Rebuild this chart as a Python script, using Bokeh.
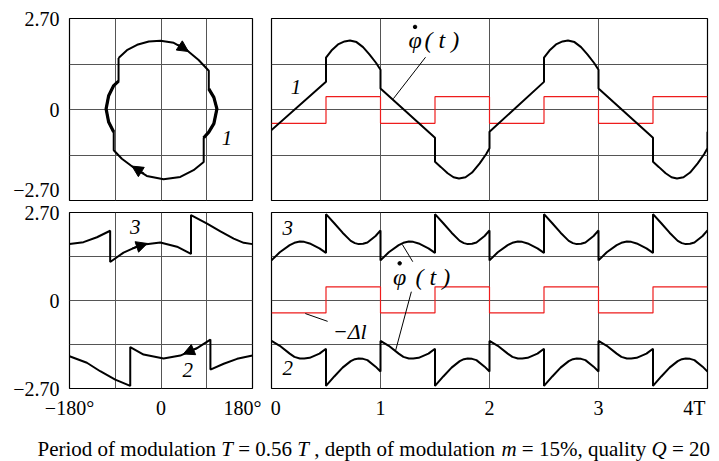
from bokeh.plotting import figure
from bokeh.models import Range1d, FixedTicker, LinearAxis, Grid, Arrow, NormalHead
from bokeh.layouts import column, row
from bokeh.embed import file_html
from bokeh.resources import INLINE
from bokeh.core.properties import value

FONT = "Liberation Serif"
RED = "#ee1c1c"
GRID = "#555555"
NB = "\u00a0"

# ---------------- data ----------------
# top-left: phase portrait of curve 1 (phase in degrees, normalised phase velocity)
tl_loop_x = [-83.5, -67, -47, -24, -1, 25, 51, 74, 94, 94, 104, 110, 104, 94, 84, 84,
             64, 38, 5, -28, -54, -77, -93, -93, -103, -108, -103, -93, -83.5, -83.5]
tl_loop_y = [1.53, 1.76, 1.92, 2.02, 2.04, 1.98, 1.76, 1.47, 1.15, 0.61, 0.36, 0.02, -0.42,
             -0.67, -0.84, -1.56, -1.80, -2.00, -2.07, -1.97, -1.72, -1.46, -1.21, -0.67,
             -0.37, 0.02, 0.41, 0.71, 0.84, 1.53]
tl_right_arc_x = [94, 104, 110, 104, 94, 84]
tl_right_arc_y = [0.61, 0.36, 0.02, -0.42, -0.67, -0.84]
tl_left_arc_x = [-93, -103, -108, -103, -93, -83.5]
tl_left_arc_y = [-0.67, -0.37, 0.02, 0.41, 0.71, 0.84]

# top-right: phase velocity of curve 1 versus time (units of T) and the modulation
tr_t = [0, 0.5, 0.5, 0.55, 0.61, 0.67, 0.72, 0.78, 0.84, 0.90, 0.96, 1.0, 1.0, 1.5, 1.5,
        1.555, 1.616, 1.67, 1.72, 1.78, 1.84, 1.91, 1.97, 2.0, 2.0,
        2.5, 2.5, 2.55, 2.61, 2.67, 2.72, 2.78, 2.84, 2.90, 2.96, 3.0, 3.0, 3.5, 3.5,
        3.555, 3.616, 3.67, 3.72, 3.78, 3.84, 3.91, 3.97, 4.0, 4.0]
tr_y = [-0.61, 0.82, 1.54, 1.75, 1.93, 2.02, 2.05, 2.00, 1.85, 1.63, 1.38, 1.18, 0.62, -0.84,
        -1.55, -1.71, -1.89, -2.01, -2.05, -2.01, -1.87, -1.60, -1.32, -1.15, -0.66,
        0.82, 1.54, 1.75, 1.93, 2.02, 2.05, 2.00, 1.85, 1.63, 1.38, 1.18, 0.62, -0.84,
        -1.55, -1.71, -1.89, -2.01, -2.05, -2.01, -1.87, -1.60, -1.32, -1.15, -0.66]
tr_mod_t = [0, 0.5, 1, 1.5, 2, 2.5, 3, 3.5, 4]
tr_mod_y = [-0.41, 0.38, -0.41, 0.38, -0.41, 0.38, -0.41, 0.38, 0.38]

# bottom-left: phase portraits of curves 3 and 2
bl3_x = [-180, -152.5, -126, -100, -100, -73.7, -40.8, -1.4, 31.5, 59, 59, 90.6, 116.9,
         143, 162.7, 180]
bl3_y = [1.73, 1.79, 1.94, 2.14, 1.18, 1.47, 1.70, 1.78, 1.65, 1.43, 2.62, 2.36, 2.12,
         1.90, 1.77, 1.73]
bl2_x = [-180, -145.8, -119.6, -90, -60.5, -60.5, -34.3, 5.1, 38, 71, 97.2, 97.2, 123.4,
         149.7, 180]
bl2_y = [-1.71, -1.91, -2.17, -2.43, -2.62, -1.43, -1.66, -1.78, -1.69, -1.46, -1.20,
         -2.12, -1.94, -1.79, -1.69]

# bottom-right: curves 3 and 2 versus time and the modulation
br_t = [0, 0.076, 0.167, 0.21, 0.26, 0.30, 0.35, 0.44, 0.5, 0.5, 0.576, 0.652, 0.727, 0.765, 0.80, 0.84, 0.88, 0.955, 1.0,
        1.0, 1.076, 1.167, 1.21, 1.26, 1.30, 1.35, 1.44, 1.5, 1.5, 1.576, 1.652, 1.727, 1.765, 1.80, 1.84, 1.88, 1.955, 2.0,
        2.0, 2.076, 2.167, 2.21, 2.26, 2.30, 2.35, 2.44, 2.5, 2.5, 2.576, 2.652, 2.727, 2.765, 2.80, 2.84, 2.88, 2.955, 3.0,
        3.0, 3.076, 3.167, 3.21, 3.26, 3.30, 3.35, 3.44, 3.5, 3.5, 3.576, 3.652, 3.727, 3.765, 3.80, 3.84, 3.88, 3.955, 4.0]
br3_y = [1.23, 1.48, 1.70, 1.77, 1.81, 1.80, 1.75, 1.60, 1.46, 2.65, 2.37, 2.08, 1.83, 1.76, 1.73, 1.74, 1.78, 1.98, 2.15,
         1.23, 1.48, 1.70, 1.77, 1.81, 1.80, 1.75, 1.60, 1.46, 2.65, 2.37, 2.08, 1.83, 1.76, 1.73, 1.74, 1.78, 1.98, 2.15,
         1.23, 1.48, 1.70, 1.77, 1.81, 1.80, 1.75, 1.60, 1.46, 2.65, 2.37, 2.08, 1.83, 1.76, 1.73, 1.74, 1.78, 1.98, 2.15,
         1.23, 1.48, 1.70, 1.77, 1.81, 1.80, 1.75, 1.60, 1.46, 2.65, 2.37, 2.08, 1.83, 1.76, 1.73, 1.74, 1.78, 1.98, 2.15]
br2_y = [-1.24, -1.39, -1.63, -1.73, -1.78, -1.78, -1.76, -1.63, -1.48, -2.62, -2.33, -2.06, -1.86, -1.80, -1.78, -1.79, -1.83, -2.03, -2.18,
         -1.24, -1.39, -1.63, -1.73, -1.78, -1.78, -1.76, -1.63, -1.48, -2.62, -2.33, -2.06, -1.86, -1.80, -1.78, -1.79, -1.83, -2.03, -2.18,
         -1.24, -1.39, -1.63, -1.73, -1.78, -1.78, -1.76, -1.63, -1.48, -2.62, -2.33, -2.06, -1.86, -1.80, -1.78, -1.79, -1.83, -2.03, -2.18,
         -1.24, -1.39, -1.63, -1.73, -1.78, -1.78, -1.76, -1.63, -1.48, -2.62, -2.33, -2.06, -1.86, -1.80, -1.78, -1.79, -1.83, -2.03, -2.18]
br_mod_t = [0, 0.5, 1, 1.5, 2, 2.5, 3, 3.5, 4]
br_mod_y = [-0.38, 0.42, -0.38, 0.42, -0.38, 0.42, -0.38, 0.42, 0.42]

# axes: ranges, grid lines and tick labels
y_range = (-2.7, 2.7)
y_grid = [-1.35, 0, 1.35]
tl_y_ticks = [-2.38, 0, 2.7]
bl_y_ticks = [-2.7, 0, 2.68]
y_tick_labels = ["\u22122.70", "0", "2.70"]
phase_range = (-180, 180)
phase_grid = [-90, 0, 90]
phase_ticks = [-180, 0, 165]
phase_tick_labels = ["\u2212180\u00b0", "0", "180\u00b0"]
time_range = (0, 4)
time_grid = [1, 2, 3]
time_ticks = [0.04, 1, 2, 3, 3.88]
time_tick_labels = ["0", "1", "2", "3", "4T"]

caption_parts = ["Period of modulation" + NB, "T", NB + "=" + NB + "0.56" + NB, "T",
                 NB + "," + NB + "depth of modulation" + NB, "m", NB + "=" + NB + "15%, quality" + NB,
                 "Q", NB + "=" + NB + "20"]
caption_styles = ["normal", "italic", "normal", "italic", "normal", "italic", "normal", "italic", "normal"]
caption_x = [37, 220.75, 232.43, 296.77, 308.45, 501, 516.1, 651, 666.2]


def make_fig(w, h, xr, xgrid, bl, br, bt, bb):
    p = figure(width=w, height=h, x_range=Range1d(*xr), y_range=Range1d(*y_range),
               x_axis_location=None, y_axis_location=None, toolbar_location=None,
               output_backend="svg", min_border_left=bl, min_border_right=br,
               min_border_top=bt, min_border_bottom=bb)
    p.center = [r for r in p.center if not isinstance(r, Grid)]
    p.add_layout(Grid(dimension=0, ticker=FixedTicker(ticks=xgrid),
                      grid_line_color=GRID, grid_line_width=1), "center")
    p.add_layout(Grid(dimension=1, ticker=FixedTicker(ticks=y_grid),
                      grid_line_color=GRID, grid_line_width=1), "center")
    p.outline_line_color = "black"
    p.outline_line_width = 1.2
    p.background_fill_color = "white"
    p.border_fill_color = "white"
    return p


def style_axis(ax, ticks, labels, standoff):
    ax.ticker = FixedTicker(ticks=ticks)
    ax.major_label_overrides = {t: l for t, l in zip(ticks, labels)}
    ax.axis_line_color = None
    ax.major_tick_line_color = None
    ax.minor_tick_line_color = None
    ax.major_label_text_font = FONT
    ax.major_label_text_font_size = "20px"
    ax.major_label_text_color = "black"
    ax.major_label_standoff = standoff


def add_text(p, x, y, txt, size, style="italic", align="center"):
    p.text(x=[x], y=[y], text=[txt], text_font=value(FONT), text_font_size=size,
           text_font_style=style, text_align=align, text_baseline="middle",
           text_color="black")


def add_phi(p, xphi, xrest, y, ydot):
    # dotted phi followed by "( t )"
    add_text(p, xphi, y, "\u03c6", "24px")
    p.scatter([xphi], [ydot], size=3.5, color="black")
    add_text(p, xrest, y, "(" + NB + "t" + NB + ")", "24px", align="left")


def add_arrow(p, x0, y0, x1, y1):
    p.add_layout(Arrow(x_start=x0, y_start=y0, x_end=x1, y_end=y1, line_width=2,
                       line_color="black",
                       end=NormalHead(size=11, fill_color="black", line_color="black",
                                      line_width=1)))


# ---------------- top-left ----------------
tl = make_fig(261, 201, phase_range, phase_grid, 69, 9, 18, 1)
ax = LinearAxis()
style_axis(ax, tl_y_ticks, y_tick_labels, 4)
tl.add_layout(ax, "left")
tl.line(tl_loop_x, tl_loop_y, line_color="black", line_width=2)
tl.line(tl_right_arc_x, tl_right_arc_y, line_color="black", line_width=3.2)
tl.line(tl_left_arc_x, tl_left_arc_y, line_color="black", line_width=3.2)
add_arrow(tl, 34, 1.92, 54, 1.72)
add_arrow(tl, -34, -1.90, -57, -1.68)
add_text(tl, 130, -0.86, "1", "21px")

# ---------------- top-right ----------------
tr = make_fig(450, 201, time_range, time_grid, 10, 4, 18, 1)
tr.step(tr_mod_t, tr_mod_y, mode="after", line_color=RED, line_width=1.2)
tr.line(tr_t, tr_y, line_color="black", line_width=2)
tr.segment(x0=[1.413], y0=[1.55], x1=[1.118], y1=[0.32], line_color="black", line_width=1)
add_phi(tr, 1.317, 1.404, 2.05, 2.45)
add_text(tr, 0.224, 0.67, "1", "21px")

# ---------------- bottom-left ----------------
bl = make_fig(261, 220, phase_range, phase_grid, 69, 9, 11, 27)
ax = LinearAxis()
style_axis(ax, bl_y_ticks, y_tick_labels, 4)
bl.add_layout(ax, "left")
ax = LinearAxis()
style_axis(ax, phase_ticks, phase_tick_labels, 2)
bl.add_layout(ax, "below")
bl.line(bl3_x, bl3_y, line_color="black", line_width=2)
bl.line(bl2_x, bl2_y, line_color="black", line_width=2)
add_arrow(bl, -56, 1.60, -27, 1.75)
add_arrow(bl, 71, -1.46, 44, -1.64)
add_text(bl, -50.6, 2.24, "3", "21px")
add_text(bl, 52.4, -2.12, "2", "21px")

# ---------------- bottom-right ----------------
br = make_fig(450, 220, time_range, time_grid, 10, 4, 11, 27)
ax = LinearAxis()
style_axis(ax, time_ticks, time_tick_labels, 2)
br.add_layout(ax, "below")
br.step(br_mod_t, br_mod_y, mode="after", line_color=RED, line_width=1.2)
br.line(br_t, br3_y, line_color="black", line_width=2)
br.line(br_t, br2_y, line_color="black", line_width=2)
br.segment(x0=[1.296, 1.283, 0.515], y0=[1.19, 0.27, -0.64],
           x1=[1.2, 1.139, 0.31], y1=[1.72, -1.53, -0.40], line_color="black", line_width=1)
add_phi(br, 1.176, 1.322, 0.72, 1.14)
add_text(br, 0.718, -0.94, "\u2212\u0394l", "22px")
add_text(br, 0.148, 2.23, "3", "21px")
add_text(br, 0.148, -2.08, "2", "21px")

# ---------------- caption ----------------
cap = figure(width=719, height=40, x_range=Range1d(0, 719), y_range=Range1d(0, 40),
             x_axis_location=None, y_axis_location=None, toolbar_location=None,
             output_backend="svg", min_border=0)
cap.center = [r for r in cap.center if not isinstance(r, Grid)]
cap.outline_line_color = None
for txt, st, x in zip(caption_parts, caption_styles, caption_x):
    cap.text(x=[x], y=[13], text=[txt], text_font=value(FONT), text_font_size="21px",
             text_font_style=st, text_align="left", text_baseline="alphabetic",
             text_color="black")

layout = column(row(tl, tr), row(bl, br), cap)
open("out.html", "w").write(file_html(layout, INLINE))
